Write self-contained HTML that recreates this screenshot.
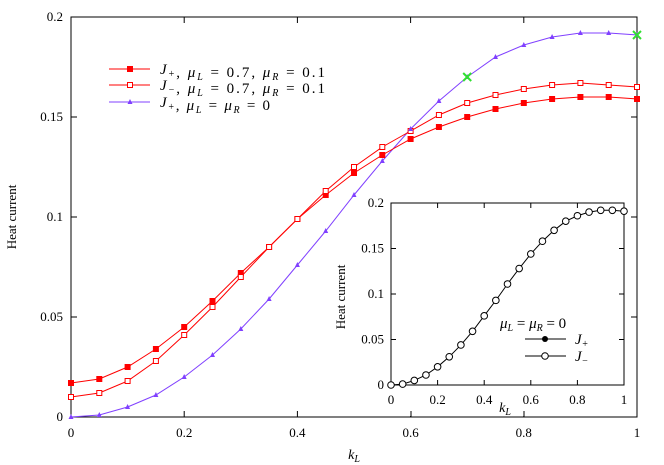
<!DOCTYPE html>
<html><head><meta charset="utf-8"><style>
body{margin:0;background:#fff}
svg{display:block}
text{fill:#000;font-family:"Liberation Serif",serif}
.t13{font-size:13px}.t12{font-size:12px}.t14{font-size:14px}.t15{font-size:15px}.t10{font-size:10px}
.i{font-style:italic}
</style></head><body>
<svg id="s" width="664" height="465" xmlns="http://www.w3.org/2000/svg"></svg>
<script>
const s=document.getElementById('s');let h='';
const X=k=>71+k*566, Y=v=>417-v*2000;
const XI=k=>391+k*233, YI=v=>385-v*910;
const blue=[0,0.001,0.005,0.011,0.02,0.031,0.044,0.059,0.076,0.093,0.111,0.128,0.144,0.158,0.17,0.18,0.186,0.19,0.192,0.192,0.191];
const rf=[0.017,0.019,0.025,0.034,0.045,0.058,0.072,0.085,0.099,0.111,0.122,0.131,0.139,0.145,0.15,0.154,0.157,0.159,0.16,0.16,0.159];
const ro=[0.01,0.012,0.018,0.028,0.041,0.055,0.070,0.085,0.099,0.113,0.125,0.135,0.143,0.151,0.157,0.161,0.164,0.166,0.167,0.166,0.165];
h+=`<rect x="71" y="17" width="566" height="400" fill="none" stroke="#000"/>`;
[0,0.2,0.4,0.6,0.8,1].forEach(k=>{h+=`<line x1="${X(k)}" y1="417" x2="${X(k)}" y2="411" stroke="#000"/><line x1="${X(k)}" y1="17" x2="${X(k)}" y2="23" stroke="#000"/><text class="t13" x="${X(k)}" y="437" text-anchor="middle">${k}</text>`});
[0,0.05,0.1,0.15,0.2].forEach(v=>{h+=`<line x1="71" y1="${Y(v)}" x2="77" y2="${Y(v)}" stroke="#000"/><line x1="637" y1="${Y(v)}" x2="631" y2="${Y(v)}" stroke="#000"/><text class="t13" x="63" y="${Y(v)+4}" text-anchor="end">${v}</text>`});
h+=`<text x="354" y="459" class="t14 i" text-anchor="middle">k<tspan class="t10" dy="3">L</tspan></text>`;
h+=`<text transform="translate(16,217) rotate(-90)" text-anchor="middle" class="t13">Heat current</text>`;
const line=(d,c,fx,fy)=>`<polyline fill="none" stroke="${c}" stroke-width="1" points="${d.map((v,i)=>fx(i*0.05)+','+fy(v)).join(' ')}"/>`;
h+=line(blue,'#8040ff',X,Y);h+=line(rf,'#ff0000',X,Y);h+=line(ro,'#ff0000',X,Y);
rf.forEach((v,i)=>h+=`<rect x="${X(i*0.05)-3}" y="${Y(v)-3}" width="6" height="6" fill="#ff0000"/>`);
ro.forEach((v,i)=>h+=`<rect x="${X(i*0.05)-2.5}" y="${Y(v)-2.5}" width="5" height="5" fill="#fff" stroke="#ff0000"/>`);
blue.forEach((v,i)=>{const x=X(i*0.05),y=Y(v);h+=`<polygon points="${x},${y-3} ${x-2.5},${y+2} ${x+2.5},${y+2}" fill="#8040ff"/>`});
[[0.7,0.17],[1,0.191]].forEach(([k,v])=>{const x=X(k),y=Y(v);h+=`<path d="M${x-4},${y-4}L${x+4},${y+4}M${x-4},${y+4}L${x+4},${y-4}" stroke="#30e030" stroke-width="2"/>`});
const sub=t=>`<tspan class="t10 i" dy="3">${t}</tspan><tspan dy="-3">\u00a0</tspan>`;
const leg=[[69,'#ff0000','f','+',`, <tspan class="i">μ</tspan>${sub('L')}=\u00a00.7, <tspan class="i">μ</tspan>${sub('R')}=\u00a00.1`,165],
[85,'#ff0000','o','−',`, <tspan class="i">μ</tspan>${sub('L')}=\u00a00.7, <tspan class="i">μ</tspan>${sub('R')}=\u00a00.1`,165],
[102,'#8040ff','t','+',`, <tspan class="i">μ</tspan>${sub('L')}=\u00a0<tspan class="i">μ</tspan>${sub('R')}=\u00a00`,110]];
leg.forEach(([y,c,m,b,r,L])=>{h+=`<line x1="109" y1="${y}" x2="150" y2="${y}" stroke="${c}"/>`;
if(m=='f')h+=`<rect x="127" y="${y-3}" width="6" height="6" fill="${c}"/>`;
if(m=='o')h+=`<rect x="127.5" y="${y-2.5}" width="5" height="5" fill="#fff" stroke="${c}"/>`;
if(m=='t')h+=`<polygon points="130,${y-3} 127.5,${y+2} 132.5,${y+2}" fill="${c}"/>`;
h+=`<text x="160" y="${y+5}" class="t15" textLength="${L}"><tspan class="i">J</tspan><tspan class="t10" dy="3">${b}</tspan><tspan dy="-3"></tspan>${r}</text>`});
// inset
h+=`<rect x="358" y="197" width="272" height="219" fill="#fff"/>`;
h+=`<line x1="631" y1="217" x2="637" y2="217" stroke="#000"/><line x1="631" y1="317" x2="637" y2="317" stroke="#000"/><line x1="411" y1="411" x2="411" y2="417" stroke="#000"/><line x1="524" y1="411" x2="524" y2="417" stroke="#000"/>`;
h+=`<rect x="391" y="203" width="233" height="182" fill="none" stroke="#000"/>`;
[0,0.2,0.4,0.6,0.8,1].forEach(k=>{h+=`<line x1="${XI(k)}" y1="385" x2="${XI(k)}" y2="380" stroke="#000"/><line x1="${XI(k)}" y1="203" x2="${XI(k)}" y2="208" stroke="#000"/><text class="t13" x="${XI(k)}" y="404" text-anchor="middle">${k}</text>`});
[0,0.05,0.1,0.15,0.2].forEach(v=>{h+=`<line x1="391" y1="${YI(v)}" x2="396" y2="${YI(v)}" stroke="#000"/><line x1="624" y1="${YI(v)}" x2="619" y2="${YI(v)}" stroke="#000"/><text class="t13" x="384" y="${YI(v)+4}" text-anchor="end">${v}</text>`});
h+=`<text x="505" y="412" class="t14 i" text-anchor="middle">k<tspan class="t10" dy="3">L</tspan></text>`;
h+=`<text transform="translate(345,297) rotate(-90)" text-anchor="middle" class="t13">Heat current</text>`;
h+=line(blue,'#000',XI,YI);
blue.forEach((v,i)=>h+=`<circle cx="${XI(i*0.05)}" cy="${YI(v)}" r="3.3" fill="#fff" stroke="#000"/>`);
h+=`<text x="500" y="328" class="t15"><tspan class="i">μ</tspan>${sub('L')}=\u00a0<tspan class="i">μ</tspan>${sub('R')}=\u00a00</text>`;
h+=`<line x1="525" y1="339" x2="566" y2="339" stroke="#000"/><circle cx="545" cy="339" r="3" fill="#000"/><text x="575" y="344" class="t15 i">J<tspan class="t10" dy="3">+</tspan></text>`;
h+=`<line x1="525" y1="356" x2="566" y2="356" stroke="#000"/><circle cx="545" cy="356" r="3.3" fill="#fff" stroke="#000"/><text x="575" y="361" class="t15 i">J<tspan class="t10" dy="3">−</tspan></text>`;
s.innerHTML=h;
</script>
</body></html>
